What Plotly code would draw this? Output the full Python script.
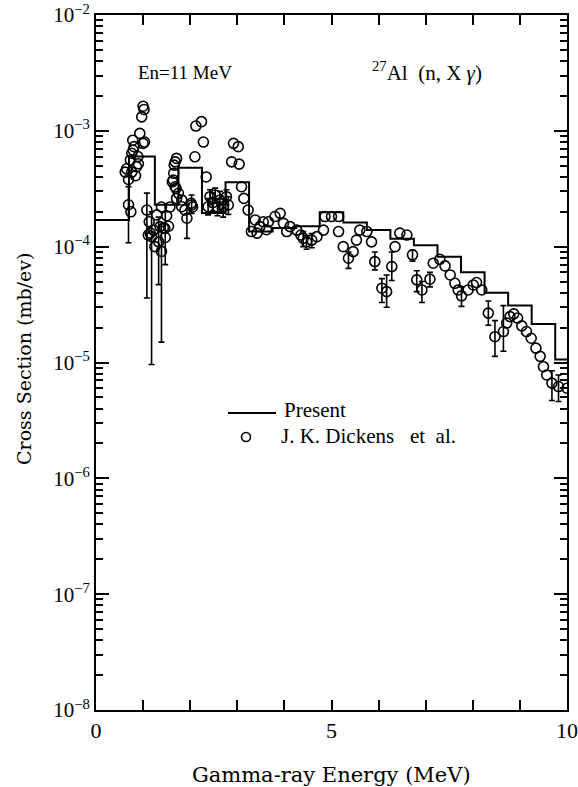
import plotly.graph_objects as go

# ---- Data ----
# "Present" histogram: bin edges (MeV) and cross sections (mb/eV)
hist_edges = [0, 0.7, 1.25, 1.75, 2.25, 2.75, 3.25, 3.75, 4.25, 4.75, 5.25,
              5.75, 6.25, 6.75, 7.25, 7.75, 8.25, 8.75, 9.25, 9.75, 10]
hist_vals = [1.7e-4, 6.0e-4, 2.3e-4, 4.8e-4, 1.95e-4, 3.6e-4, 1.35e-4, 1.45e-4,
             1.5e-4, 1.98e-4, 1.62e-4, 1.39e-4, 1.17e-4, 1.03e-4, 8.2e-5,
             6.0e-5, 4.0e-5, 3.1e-5, 2.15e-5, 1.06e-5]

# Dickens et al. points without visible error bars
dk_e = [0.62, 0.65, 0.69, 0.73, 0.74, 0.76, 0.76, 0.78, 0.79, 0.81, 0.84, 0.86,
        0.89, 0.90, 0.93, 0.97, 1.00, 1.00, 1.02, 1.03,
        1.11, 1.13, 1.15, 1.22, 1.25, 1.29, 1.36, 1.39, 1.43, 1.46, 1.50, 1.54, 1.57,
        1.62, 1.64, 1.65, 1.66, 1.68, 1.68, 1.70, 1.71, 1.71, 1.75, 1.82, 1.82,
        1.89, 2.02,
        2.05, 2.10, 2.12, 2.24, 2.28, 2.34, 2.88, 2.92, 3.02, 3.04, 3.09, 3.14, 3.23,
        3.30, 3.38, 3.42, 3.48, 3.55, 3.62, 3.66, 3.80, 3.91, 3.98, 4.05, 4.12,
        4.26, 4.35, 4.69, 4.83,
        4.86, 5.00, 5.15, 5.15, 5.25, 5.46, 5.53, 5.60, 5.75, 5.85, 6.35, 6.45,
        6.60, 7.16, 7.30, 7.41, 7.52, 7.62, 7.69, 7.90, 8.01, 8.08, 8.19, 8.72,
        8.79, 8.87, 8.95, 9.04, 9.14, 9.24, 9.34, 9.43, 9.50, 9.57, 10.0]
dk_v = [4.4e-4, 4.7e-4, 3.8e-4, 5.6e-4, 2.0e-4, 6.4e-4, 4.4e-4, 8.3e-4, 6.8e-4,
        7.3e-4, 4.1e-4, 4.9e-4, 6.0e-4, 5.2e-4, 9.5e-4, 1.32e-3, 1.63e-3, 7.8e-4,
        1.53e-3, 8.0e-4,
        1.26e-4, 1.64e-4, 1.31e-4, 1.39e-4, 1.0e-4, 1.88e-4, 1.49e-4, 2.2e-4,
        1.45e-4, 1.44e-4, 1.85e-4, 1.5e-4, 2.2e-4,
        3.63e-4, 3.76e-4, 4.3e-4, 5.06e-4, 5.4e-4, 3.29e-4, 3.19e-4, 5.78e-4,
        2.61e-4, 2.89e-4, 2.53e-4, 2.21e-4, 2.07e-4, 2.37e-4,
        2.2e-4, 5.97e-4, 1.10e-3, 1.20e-3, 8.0e-4, 4.0e-4, 5.4e-4, 7.8e-4, 7.3e-4,
        5.16e-4, 3.29e-4, 2.61e-4, 2.07e-4,
        1.35e-4, 1.70e-4, 1.31e-4, 1.49e-4, 1.64e-4, 1.40e-4, 1.64e-4, 1.82e-4,
        1.94e-4, 1.59e-4, 1.35e-4, 1.49e-4, 1.39e-4, 1.26e-4, 1.22e-4, 1.39e-4,
        1.82e-4, 1.82e-4, 1.82e-4, 1.35e-4, 1.0e-4, 9.06e-5, 1.14e-4, 1.39e-4,
        1.35e-4, 1.10e-4, 1.0e-4, 1.31e-4, 1.26e-4, 7.2e-5, 7.78e-5, 6.82e-5,
        5.7e-5, 4.83e-5, 4.23e-5, 4.23e-5, 4.67e-5, 4.9e-5, 4.23e-5, 2.19e-5,
        2.49e-5, 2.63e-5, 2.42e-5, 2.07e-5, 1.85e-5, 1.62e-5, 1.33e-5, 1.13e-5,
        9.2e-6, 7.8e-6, 6.0e-6]

# Dickens et al. points with error bars (value, lower end, upper end)
dkb_e = [0.69, 1.08, 1.18, 1.33, 1.39, 1.47, 1.93, 2.03,
         2.38, 2.42, 2.48, 2.53, 2.58, 2.63, 2.70, 2.77, 2.81,
         4.40, 4.47, 4.58, 5.36, 5.92, 6.07, 6.17, 6.28, 6.72, 6.81, 6.92,
         7.09, 7.76, 8.33, 8.47, 8.65, 9.68, 9.82]
dkb_v = [2.3e-4, 2.07e-4, 1.22e-4, 1.1e-4, 9.1e-5, 1.2e-4, 1.76e-4, 2.29e-4,
         2.21e-4, 2.7e-4, 2.4e-4, 2.79e-4, 2.2e-4, 2.53e-4, 2.21e-4, 2.7e-4, 2.29e-4,
         1.18e-4, 1.10e-4, 1.14e-4, 7.94e-5, 7.43e-5, 4.38e-5, 4.09e-5, 6.73e-5,
         8.5e-5, 5.17e-5, 4.23e-5, 5.24e-5, 3.76e-5, 2.67e-5, 1.67e-5, 1.85e-5,
         6.64e-6, 6.2e-6]
dkb_lo = [1.08e-4, 3.6e-5, 9.6e-6, 4.7e-5, 1.5e-5, 7.0e-5, 1.18e-4, 1.94e-4,
          1.88e-4, 2.3e-4, 2.0e-4, 2.4e-4, 1.85e-4, 2.1e-4, 1.8e-4, 2.3e-4, 1.9e-4,
          1.0e-4, 9.5e-5, 9.8e-5, 6.5e-5, 6.3e-5, 3.3e-5, 3.0e-5, 5.1e-5,
          7.5e-5, 4.09e-5, 3.3e-5, 4.5e-5, 3.05e-5, 2.1e-5, 1.13e-5, 1.25e-5,
          4.7e-6, 4.6e-6]
dkb_hi = [3.3e-4, 2.9e-4, 2.0e-4, 1.8e-4, 1.5e-4, 2.0e-4, 2.3e-4, 2.79e-4,
          2.6e-4, 3.1e-4, 2.9e-4, 3.2e-4, 2.6e-4, 3.0e-4, 2.6e-4, 3.1e-4, 2.7e-4,
          1.35e-4, 1.25e-4, 1.3e-4, 9.0e-5, 9.0e-5, 5.3e-5, 5.7e-5, 9.0e-5,
          9.3e-5, 6.2e-5, 5.0e-5, 6.0e-5, 4.5e-5, 3.4e-5, 2.3e-5, 3.1e-5,
          8.5e-6, 7.8e-6]

x_tickvals = [0, 5, 10]
x_ticktext = ["0", "5", "10"]
y_tickvals = [1e-8, 1e-7, 1e-6, 1e-5, 1e-4, 1e-3, 1e-2]
y_ticktext = ["10<sup>\u22128</sup>", "10<sup>\u22127</sup>", "10<sup>\u22126</sup>",
              "10<sup>\u22125</sup>", "10<sup>\u22124</sup>", "10<sup>\u22123</sup>",
              "10<sup>\u22122</sup>"]
legend_labels = ["Present", "J. K. Dickens   et  al."]

FONT = "Liberation Serif"
TITLE_FONT = "DejaVu Serif"

# minor tick positions of the log axis (2..9 x each decade)
y_minor = [k * 10.0 ** e for e in range(-8, -2) for k in range(2, 10)]

fig = go.Figure()

hx = hist_edges[:-1] + [hist_edges[-1]]
hy = hist_vals + [hist_vals[-1]]
fig.add_trace(go.Scatter(x=hx, y=hy, mode="lines", line_shape="hv",
                         line=dict(color="black", width=2), name=legend_labels[0],
                         showlegend=False))

mk = dict(symbol="circle-open", size=10, color="black",
          line=dict(width=1.6, color="black"))
fig.add_trace(go.Scatter(x=dk_e, y=dk_v, mode="markers", name=legend_labels[1],
                         showlegend=False, marker=mk))
fig.add_trace(go.Scatter(
    x=dkb_e, y=dkb_v, mode="markers", showlegend=False, marker=mk,
    error_y=dict(type="data", symmetric=False,
                 array=[h - v for h, v in zip(dkb_hi, dkb_v)],
                 arrayminus=[v - l for v, l in zip(dkb_v, dkb_lo)],
                 color="black", thickness=1.6, width=3)))

fig.update_layout(
    width=578, height=787,
    margin=dict(l=96, r=11, t=15, b=77, autoexpand=False),
    paper_bgcolor="white", plot_bgcolor="white",
    font=dict(family=FONT, color="black", size=17),
    showlegend=False,
    xaxis=dict(range=[0, 10], tickvals=x_tickvals, ticktext=x_ticktext,
               ticks="inside", ticklen=10, tickwidth=2, tickcolor="black",
               showline=True, linewidth=2, linecolor="black", mirror="allticks",
               showgrid=False, zeroline=False, tickfont=dict(size=22),
               automargin=False,
               minor=dict(dtick=1, ticks="inside", ticklen=10, tickwidth=2,
                          tickcolor="black", showgrid=False)),
    yaxis=dict(type="log", range=[-8, -2], tickvals=y_tickvals, ticktext=y_ticktext,
               ticks="inside", ticklen=13, tickwidth=2, tickcolor="black",
               showline=True, linewidth=2, linecolor="black", mirror="allticks",
               showgrid=False, zeroline=False, tickfont=dict(size=21),
               automargin=False,
               minor=dict(tickmode="array", tickvals=y_minor, ticks="inside",
                          ticklen=7, tickwidth=1.5, tickcolor="black",
                          showgrid=False)),
)

# Legend (drawn manually to match the original layout)
fig.add_shape(type="line", xref="paper", yref="paper", x0=0.2803, x1=0.3822,
              y0=0.4273, y1=0.4273, line=dict(color="black", width=2))
fig.add_shape(type="circle", xref="paper", yref="paper", xsizemode="pixel",
              ysizemode="pixel", xanchor=0.3185, yanchor=0.3928,
              x0=-4.5, x1=4.5, y0=-4.5, y1=4.5,
              line=dict(color="black", width=1.6))
fig.add_annotation(text=legend_labels[0], xref="paper", yref="paper", x=0.395, y=0.431,
                   xanchor="left", yanchor="middle", showarrow=False,
                   font=dict(size=21))
fig.add_annotation(text=legend_labels[1], xref="paper", yref="paper", x=0.389, y=0.394,
                   xanchor="left", yanchor="middle", showarrow=False,
                   font=dict(size=21))

fig.add_annotation(text="En=11 MeV", xref="paper", yref="paper", x=0.085, y=0.917,
                   xanchor="left", yanchor="middle", showarrow=False,
                   font=dict(size=19))
fig.add_annotation(text="<sup>27</sup>Al  (n, X <i>\u03b3</i>)", xref="paper", yref="paper",
                   x=0.582, y=0.918, xanchor="left", yanchor="middle", showarrow=False,
                   font=dict(size=21))
fig.add_annotation(text="Cross Section (mb/ev)", xref="paper", yref="paper",
                   x=-0.153, y=0.505, xanchor="center", yanchor="middle", textangle=-90,
                   showarrow=False, font=dict(family=TITLE_FONT, size=19))
fig.add_annotation(text="Gamma-ray Energy (MeV)", xref="paper", yref="paper",
                   x=0.5, y=-0.093, xanchor="center", yanchor="middle",
                   showarrow=False, font=dict(family=TITLE_FONT, size=21))

fig.write_html("out.html", config={"displayModeBar": False},
               post_script="document.body.style.margin='0';"
                           "document.body.style.overflow='hidden';")
